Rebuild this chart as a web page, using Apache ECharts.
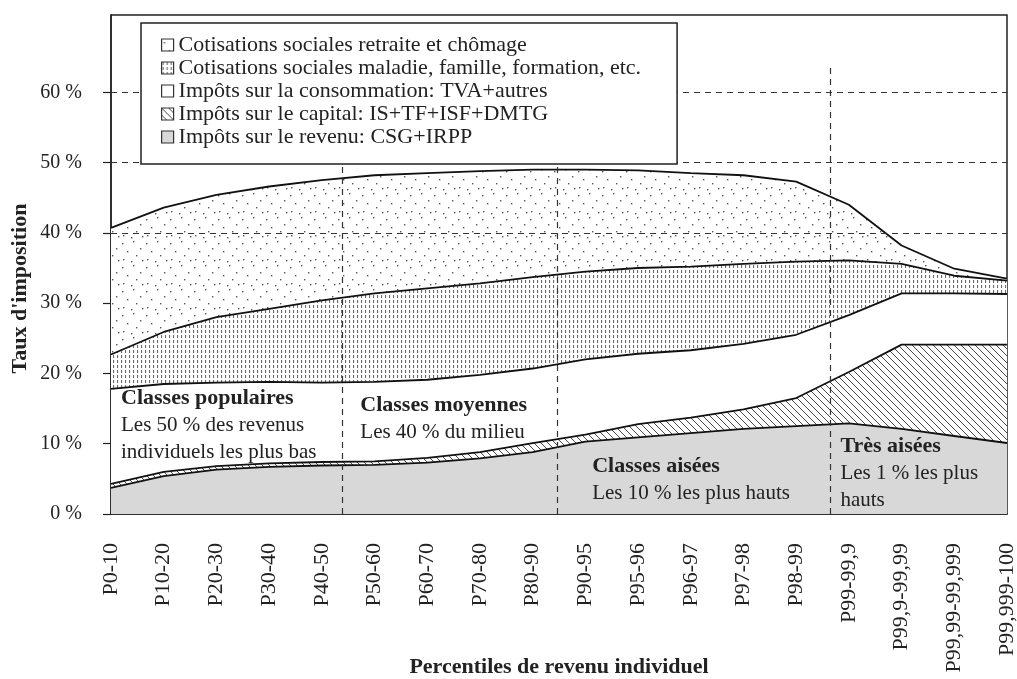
<!DOCTYPE html>
<html>
<head>
<meta charset="utf-8">
<script src="https://cdn.jsdelivr.net/npm/echarts@6/dist/echarts.min.js"></script>
<style>
  html, body { margin: 0; padding: 0; background: #fff; }
  #chart { width: 1017px; height: 679px; }
</style>
</head>
<body>
<div id="chart"></div>
<script>
// categories (percentiles)
const categories = [
  'P0-10', 'P10-20', 'P20-30', 'P30-40', 'P40-50', 'P50-60', 'P60-70', 'P70-80', 'P80-90',
  'P90-95', 'P95-96', 'P96-97', 'P97-98', 'P98-99', 'P99-99,9', 'P99,9-99,99',
  'P99,99-99,999', 'P99,999-100'
]

// taux par composante (en % du revenu), empilés de bas en haut
const revenu = [3.7, 5.4, 6.3, 6.7, 6.9, 7.0, 7.3, 7.9, 8.8, 10.3, 10.9, 11.5, 12.1, 12.5, 12.9, 12.1, 11.1, 10.1]
const capital = [0.6, 0.6, 0.5, 0.5, 0.5, 0.5, 0.7, 0.9, 1.3, 1.0, 1.9, 2.2, 2.8, 4.0, 7.3, 12.0, 13.0, 14.0]
const consommation = [13.5, 12.5, 11.9, 11.6, 11.3, 11.3, 11.1, 11.0, 10.6, 10.7, 10.0, 9.6, 9.3, 9.0, 8.1, 7.3, 7.3, 7.2]
const maladie = [4.9, 7.4, 9.3, 10.4, 11.7, 12.6, 13.0, 13.0, 13.0, 12.5, 12.2, 11.9, 11.4, 10.4, 7.8, 4.2, 2.5, 1.9]
const retraite = [18.0, 17.7, 17.4, 17.4, 17.1, 16.8, 16.4, 16.0, 15.3, 14.5, 13.9, 13.3, 12.6, 11.4, 7.9, 2.6, 1.0, 0.3]

// axes
const yTicks = [0, 10, 20, 30, 40, 50, 60]
const gridLevels = [40, 50, 60]
const groupBounds = [4.38, 8.46, 13.64]

// annotations des groupes
const notes = [
  { title: 'Classes populaires', lines: ['Les 50 % des revenus', 'individuels les plus bas'] },
  { title: 'Classes moyennes', lines: ['Les 40 % du milieu'] },
  { title: 'Classes aisées', lines: ['Les 10 % les plus hauts'] },
  { title: 'Très aisées', lines: ['Les 1 % les plus', 'hauts'] }
]
const notePos = [[0.19, 18.35], [4.73, 17.4], [9.13, 8.7], [13.84, 11.5]]

const names = {
  retraite: 'Cotisations sociales retraite et chômage',
  maladie: 'Cotisations sociales maladie, famille, formation, etc.',
  conso: 'Impôts sur la consommation: TVA+autres',
  capital: 'Impôts sur le capital: IS+TF+ISF+DMTG',
  revenu: 'Impôts sur le revenu: CSG+IRPP'
}

const FONT = '"Liberation Serif", "DejaVu Serif", serif'
const INK = '#222'

// motifs de remplissage
function tile(w, h, bg, draw) {
  const c = document.createElement('canvas')
  c.width = w
  c.height = h
  const g = c.getContext('2d')
  g.fillStyle = bg
  g.fillRect(0, 0, w, h)
  if (draw) draw(g)
  return { image: c, repeat: 'repeat' }
}

const sparseDots = tile(24, 24, '#fff', g => {
  g.fillStyle = '#555'
  const pts = [[2, 3], [13, 1], [20, 8], [7, 11], [16, 15], [3, 19], [11, 21], [22, 20]]
  pts.forEach(p => g.fillRect(p[0], p[1], 1.4, 1.4))
})
const denseDashes = tile(4, 5, '#fff', g => {
  g.fillStyle = '#6a6a6a'
  g.fillRect(1, 0, 1.1, 3)
})
const hatch = tile(7, 7, '#fff', g => {
  g.strokeStyle = '#333'
  g.lineWidth = 0.9
  for (let k = -1; k <= 1; k++) {
    g.beginPath()
    g.moveTo(k * 7, 0)
    g.lineTo(k * 7 + 7, 7)
    g.stroke()
  }
})
const greyFill = '#d8d8d8'
const whiteFill = '#fff'

const layer = (name, data, fill) => ({
  name,
  type: 'line',
  stack: 'total',
  data,
  symbol: 'none',
  lineStyle: { color: '#111', width: 1.8 },
  areaStyle: { color: fill, opacity: 1 },
  emphasis: { disabled: true },
  z: 2
})

const dashStyle = { color: '#333', width: 1.2, type: [6, 5] }

const chart = echarts.init(document.getElementById('chart'))

chart.setOption({
  backgroundColor: '#fff',
  animation: false,
  textStyle: { fontFamily: FONT, color: INK },
  grid: {
    left: 111,
    right: 10,
    top: 15,
    bottom: 165,
    outerBoundsMode: 'none',
    show: true,
    borderColor: INK,
    borderWidth: 1.5,
    backgroundColor: 'transparent'
  },
  legend: {
    orient: 'vertical',
    left: 141,
    top: 23,
    padding: [11, 36, 16, 20],
    itemGap: 1,
    itemWidth: 12,
    itemHeight: 12,
    icon: 'rect',
    backgroundColor: '#fff',
    borderColor: INK,
    borderWidth: 1.5,
    selectedMode: false,
    textStyle: { fontFamily: FONT, fontSize: 22, lineHeight: 22, color: INK },
    data: [
      { name: names.retraite, itemStyle: { color: sparseDots, borderColor: '#333', borderWidth: 1.2 } },
      { name: names.maladie, itemStyle: { color: denseDashes, borderColor: '#333', borderWidth: 1.2 } },
      { name: names.conso, itemStyle: { color: whiteFill, borderColor: '#333', borderWidth: 1.2 } },
      { name: names.capital, itemStyle: { color: hatch, borderColor: '#333', borderWidth: 1.2 } },
      { name: names.revenu, itemStyle: { color: greyFill, borderColor: '#333', borderWidth: 1.2 } }
    ]
  },
  xAxis: [
    {
      type: 'category',
      data: categories,
      boundaryGap: false,
      name: 'Percentiles de revenu individuel',
      nameLocation: 'middle',
      nameGap: 142,
      nameMoveOverlap: false,
      nameTextStyle: { fontFamily: FONT, fontSize: 22, fontWeight: 'bold', color: INK },
      axisLine: { show: true, lineStyle: { color: INK, width: 1.5 } },
      axisTick: { show: false },
      splitLine: { show: false },
      axisLabel: {
        interval: 0,
        rotate: 90,
        margin: 29,
        fontFamily: FONT,
        fontSize: 22,
        color: INK
      }
    },
    {
      // axe de repérage pour les séparateurs de groupes et les notes
      type: 'value',
      min: 0,
      max: categories.length - 1,
      show: false
    }
  ],
  yAxis: {
    type: 'value',
    min: 0,
    max: 71,
    interval: 10,
    name: "Taux d'imposition",
    nameLocation: 'middle',
    nameGap: 80,
    nameMoveOverlap: false,
    nameTextStyle: { fontFamily: FONT, fontSize: 22, fontWeight: 'bold', color: INK, padding: [0, 48, 0, 0] },
    axisLine: { show: true, lineStyle: { color: INK, width: 1.5 } },
    axisTick: { show: true, inside: false, length: 8, customValues: yTicks, lineStyle: { color: INK, width: 1.2 } },
    splitLine: { show: false },
    axisLabel: {
      customValues: yTicks,
      margin: 29,
      fontFamily: FONT,
      fontSize: 20,
      color: INK,
      formatter: v => v + ' %'
    }
  },
  series: [
    layer(names.revenu, revenu, greyFill),
    layer(names.capital, capital, hatch),
    layer(names.conso, consommation, whiteFill),
    layer(names.maladie, maladie, denseDashes),
    layer(names.retraite, retraite, sparseDots),
    {
      name: 'repères',
      type: 'line',
      xAxisIndex: 1,
      data: [],
      silent: true,
      markLine: {
        z: 3,
        silent: true,
        symbol: ['none', 'none'],
        label: { show: false },
        lineStyle: dashStyle,
        data: [
          ...gridLevels.map(v => [{ coord: [0, v] }, { coord: [categories.length - 1, v] }]),
          ...groupBounds.map(x => [{ coord: [x, 0] }, { coord: [x, 64] }])
        ]
      },
      markPoint: {
        z: 3,
        silent: true,
        symbol: 'rect',
        symbolSize: 0,
        data: notes.map((n, i) => ({
          coord: notePos[i],
          label: {
            show: true,
            position: [0, 0],
            align: 'left',
            verticalAlign: 'top',
            formatter: ['{b|' + n.title + '}', ...n.lines.map(l => '{n|' + l + '}')].join('\n'),
            rich: {
              b: { fontFamily: FONT, fontSize: 22, fontWeight: 'bold', color: INK, lineHeight: 27 },
              n: { fontFamily: FONT, fontSize: 21, color: INK, lineHeight: 27 }
            }
          }
        }))
      }
    }
  ]
})
</script>
</body>
</html>
